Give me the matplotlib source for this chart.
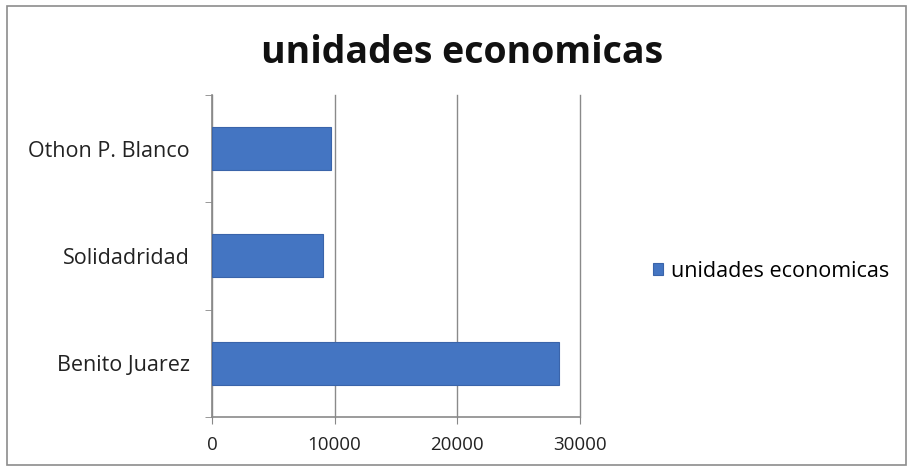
import matplotlib.pyplot as plt
from matplotlib.patches import Rectangle

# municipios y numero de unidades economicas
municipios = ['Benito Juarez', 'Solidadridad', 'Othon P. Blanco']
unidades = [28280, 9020, 9670]
ticks_x = [0, 10000, 20000, 30000]

plt.rcParams['font.family'] = ['Open Sans', 'DejaVu Sans']

fig = plt.figure(figsize=(9.1, 4.7), dpi=100)
fig.patch.set_facecolor('white')
# marco del grafico
fig.patches.append(Rectangle((0.008, 0.01), 0.988, 0.978, transform=fig.transFigure,
                             fill=False, edgecolor='#8c8c8c', linewidth=1.2))

ax = fig.add_axes([0.233, 0.113, 0.404, 0.685])
pos = range(len(municipios))
ax.barh(pos, unidades, height=0.4, color='#4475c2', edgecolor='#3a64aa',
        linewidth=0.8, label='unidades economicas', zorder=3)

ax.set_xlim(0, 30000)
ax.set_ylim(-0.5, 2.5)
ax.set_xticks(ticks_x)
ax.set_xticklabels([str(t) for t in ticks_x], fontsize=13.5, color='#222222')
ax.set_yticks(list(pos))
ax.set_yticklabels(municipios, fontsize=15.5, color='#222222')
ax.tick_params(axis='y', length=0, pad=16)
ax.set_yticks([-0.5, 0.5, 1.5, 2.5], minor=True)
ax.tick_params(axis='y', which='minor', length=5, color='#888888')
ax.tick_params(axis='x', length=5, color='#888888', pad=9)

ax.grid(axis='x', color='#8a8a8a', linewidth=1, zorder=0)
for gl in ax.get_xgridlines():
    gl.set_clip_on(False)
for s in ['top', 'right']:
    ax.spines[s].set_visible(False)
for s in ['left', 'bottom']:
    ax.spines[s].set_color('#8a8a8a')
    ax.spines[s].set_linewidth(1.2)

fig.text(0.508, 0.887, 'unidades economicas', ha='center', va='center',
         fontsize=27, fontweight='bold', color='#111111')

fig.legend(loc='center left', bbox_to_anchor=(0.696, 0.423), frameon=False,
           fontsize=15.5, handlelength=0.5, handleheight=0.5, handletextpad=0.35)

fig.savefig('out.png', dpi=100)
